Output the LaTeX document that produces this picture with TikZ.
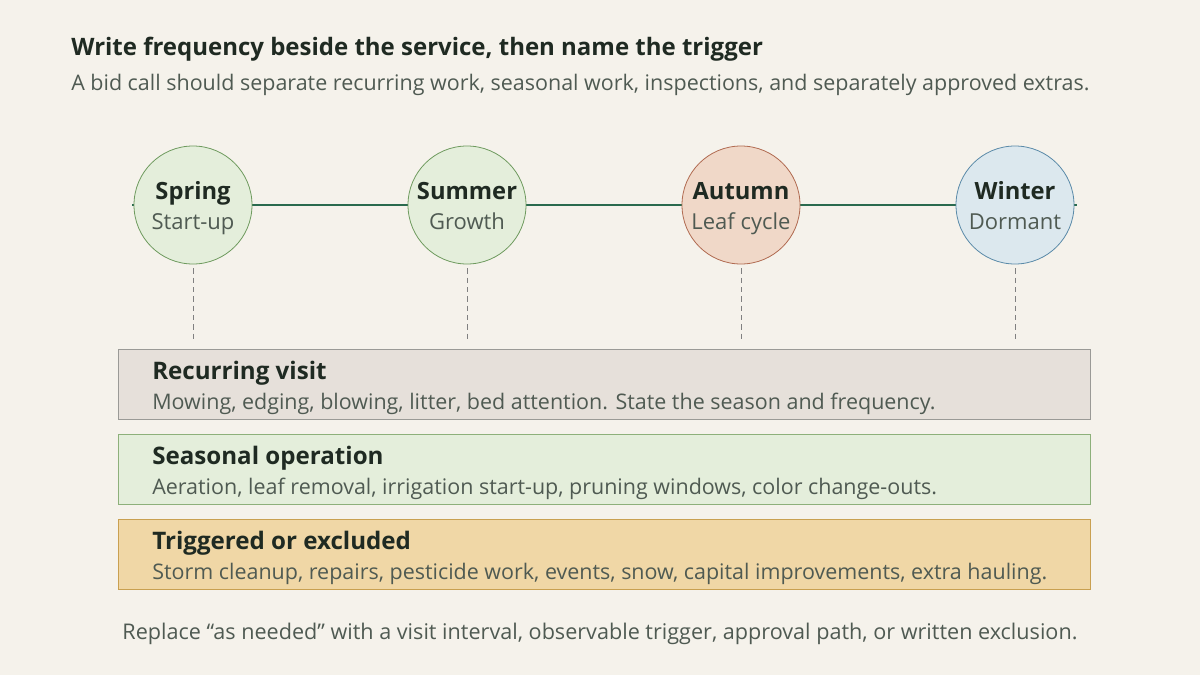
\documentclass[tikz,border=0pt]{standalone}
\usepackage{fontspec}
\setmainfont{Open Sans}
\definecolor{bg}{HTML}{F5F2EB}
\definecolor{ink}{HTML}{1F2A22}
\definecolor{sub}{HTML}{4F5A52}
\definecolor{linec}{HTML}{2A6A4E}
\definecolor{grnF}{HTML}{E4EEDB}\definecolor{grnD}{HTML}{6E9A5E}
\definecolor{autF}{HTML}{F0D8C8}\definecolor{autD}{HTML}{B06A50}
\definecolor{winF}{HTML}{DCE8EE}\definecolor{winD}{HTML}{5A8AA8}
\definecolor{recF}{HTML}{E6E0DA}\definecolor{recD}{HTML}{9A9A96}
\definecolor{seaD}{HTML}{8DB07A}
\definecolor{trgF}{HTML}{F0D7A6}\definecolor{trgD}{HTML}{C9A050}
\begin{document}
\begin{tikzpicture}[x=0.75pt,y=-0.75pt,
 circ/.style={circle,minimum size=118*0.75pt,inner sep=0pt,line width=0.6pt},
 box/.style={rectangle,minimum width=972*0.75pt,minimum height=70*0.75pt,inner sep=0pt,line width=0.6pt},
 hd/.style={font=\fontsize{18.1}{20}\selectfont\bfseries,text=ink,anchor=base west,inner sep=0pt},
 bd/.style={font=\fontsize{16.1}{18}\selectfont,text=sub,anchor=base west,inner sep=0pt},
 ch/.style={font=\fontsize{17.8}{20}\selectfont\bfseries,text=ink,inner sep=0pt,anchor=base},
 cs/.style={font=\fontsize{16.5}{18}\selectfont,text=sub,inner sep=0pt,anchor=base},
 dashln/.style={draw=gray,dash pattern=on 4pt off 3pt,line width=0.7pt}]
\fill[bg] (0,0) rectangle (1200,675);
\useasboundingbox (0,0) rectangle (1200,675);
\node[font=\fontsize{18}{20}\selectfont\bfseries,text=ink,anchor=base west,inner sep=0pt] (title) at (71,55) {Write frequency beside the service, then name the trigger};
\node[font=\fontsize{16.1}{18}\selectfont,text=sub,anchor=base west,inner sep=0pt] (subt) at (71,90) {A bid call should separate recurring work, seasonal work, inspections, and separately approved extras.};
\coordinate (L) at (132,205); \coordinate (R) at (1077,205);
\draw[linec,line width=1.8pt] (L) -- (R);
\node[circ,draw=grnD,fill=grnF] (sp) at (193,205) {};
\node[circ,draw=grnD,fill=grnF] (su) at (467,205) {};
\node[circ,draw=autD,fill=autF] (au) at (741,205) {};
\node[circ,draw=winD,fill=winF] (wi) at (1015,205) {};
\foreach \n/\a/\b in {sp/Spring/Start-up,su/Summer/Growth,au/Autumn/Leaf cycle,wi/Winter/Dormant}{
 \node[ch] (\n h) at ([yshift=4]\n.center) {\a};
 \node[cs] (\n s) at ([yshift=-18]\n.center) {\b};
 \coordinate (\n e) at ([yshift=-57]\n.south);
 \draw[dashln] ([yshift=-3]\n.south) -- (\n e);
}
\node[box,draw=recD,fill=recF] (b1) at (604,384) {};
\node[box,draw=seaD,fill=grnF] (b2) at (604,469) {};
\node[box,draw=trgD,fill=trgF] (b3) at (604,554) {};
\node[hd] (h1) at (152,379) {Recurring visit};
\node[bd] (t1) at (152,409) {Mowing, edging, blowing, litter, bed attention. State the season and frequency.};
\node[hd] (h2) at (152,464) {Seasonal operation};
\node[bd] (t2) at (152,494) {Aeration, leaf removal, irrigation start-up, pruning windows, color change-outs.};
\node[hd] (h3) at (152,549) {Triggered or excluded};
\node[bd] (t3) at (152,579) {Storm cleanup, repairs, pesticide work, events, snow, capital improvements, extra hauling.};
\node[font=\fontsize{16.2}{18}\selectfont,text=sub,anchor=base,inner sep=0pt] (foot) at (600,639) {Replace “as needed” with a visit interval, observable trigger, approval path, or written exclusion.};
\end{tikzpicture}
\end{document}
